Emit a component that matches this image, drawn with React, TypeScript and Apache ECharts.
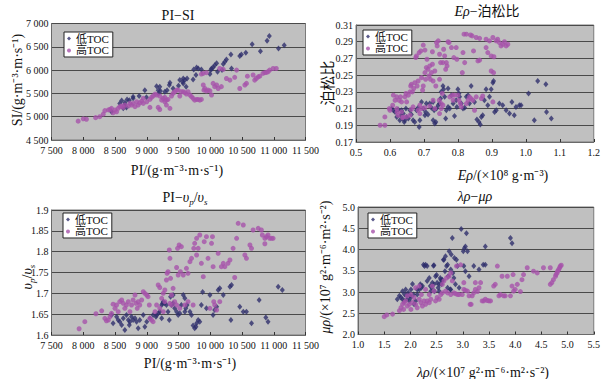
import React, { useEffect, useRef } from "react";
import * as echarts from "echarts";

// ---------- Data ----------
// Panel 1: PI vs SI
const piSiLow: number[][] = [
  [10930,6730],[10895,6630],[10660,6555],[10790,6405],[11075,6465],[11165,6535],[10560,6370],[10490,6335],[10465,6300],[10325,6335],[10255,6230],[10230,6180],[10205,6130],[10335,6035],[10100,6145],[10070,6105],[10045,6055],[10010,6000],[9995,5915],[10020,6035],[10185,6000],[10115,5965],[9785,6055],[9740,6015],[9810,6035],[9860,6015],[9775,5895],[9730,5800],[9635,5820],[9600,5785],[9565,5750],[9520,5785],[9575,5715],[9500,5665],[9365,5730],[9355,5680],[9320,5570],[9285,5535],[9205,5645],[9180,5570],[9155,5655],[9215,5550],[9185,5500],[8970,5570],[8995,5415],[8880,5445],[8785,5395],[8725,5355],[8690,5370],[8655,5300],[8605,5345],[8575,5285],[8655,5250],[8680,5200],[8630,5180],[8445,5105],[8785,5430],[9415,5605],[9575,5820],[9620,5645]
];
const piSiHigh: number[][] = [
  [7920,4905],[8000,4955],[8050,4945],[8195,4980],[8260,5000],[8315,5055],[8340,5130],[8395,5145],[8420,5155],[8445,5180],[8470,5085],[8500,5145],[8525,5105],[8550,5180],[8575,5215],[8605,5230],[8630,5200],[8655,5250],[8710,5230],[8735,5285],[8760,5250],[8785,5285],[8815,5215],[8840,5320],[8865,5250],[8890,5300],[8920,5335],[8945,5285],[9000,5320],[9050,5370],[9075,5415],[9100,5445],[9130,5485],[9155,5465],[9180,5200],[9205,5155],[9235,5355],[9260,5395],[9285,5415],[9310,5355],[9335,5370],[9365,5180],[9390,5445],[9415,5500],[9440,5535],[9470,5570],[9495,5570],[9520,5445],[9545,5535],[9575,5535],[9600,5515],[9625,5485],[9650,5535],[9680,5465],[9705,5430],[9730,5395],[9755,5355],[9785,5370],[9810,5370],[9835,5355],[9860,5370],[9890,5680],[9900,5570],[9915,5605],[9940,5550],[9965,5570],[9995,5555],[10020,5465],[10045,5715],[10070,5645],[10100,5680],[10125,5605],[10150,6035],[10175,5645],[10205,6015],[10255,5820],[10310,5785],[10385,5845],[10415,6000],[10465,5605],[10545,5680],[10570,5715],[10585,5870],[10675,5895],[10700,5785],[10725,5820],[10755,5855],[10780,5870],[10830,5930],[10860,5945],[10885,5950],[10910,5965],[10935,6000],[10990,6035],[11040,6035],[9890,5930],[9940,5945],[9860,5915],[9050,5200],[8945,5395],[9285,5320],[9310,5250],[9205,5445]
];

// Panel 2: E·rho vs Poisson's ratio
const eRhoLow: number[][] = [
  [0.605,0.210],[0.610,0.208],[0.615,0.206],[0.620,0.200],[0.624,0.209],[0.629,0.196],[0.632,0.202],[0.634,0.208],[0.637,0.198],[0.639,0.204],[0.642,0.194],[0.644,0.196],[0.647,0.210],[0.649,0.200],[0.654,0.198],[0.659,0.208],[0.663,0.203],[0.668,0.196],[0.673,0.194],[0.678,0.208],[0.683,0.211],[0.686,0.188],[0.688,0.196],[0.693,0.218],[0.698,0.210],[0.703,0.202],[0.705,0.206],[0.712,0.203],[0.717,0.216],[0.722,0.211],[0.727,0.218],[0.730,0.208],[0.732,0.192],[0.735,0.194],[0.737,0.210],[0.742,0.214],[0.746,0.216],[0.749,0.222],[0.751,0.230],[0.756,0.237],[0.758,0.233],[0.761,0.224],[0.764,0.198],[0.766,0.208],[0.771,0.212],[0.776,0.210],[0.781,0.226],[0.786,0.216],[0.790,0.201],[0.795,0.220],[0.797,0.212],[0.800,0.233],[0.803,0.228],[0.805,0.224],[0.810,0.216],[0.815,0.210],[0.820,0.211],[0.825,0.224],[0.830,0.226],[0.834,0.216],[0.839,0.237],[0.849,0.218],[0.856,0.197],[0.862,0.194],[0.866,0.191],[0.869,0.200],[0.873,0.202],[0.878,0.220],[0.883,0.233],[0.888,0.214],[0.893,0.224],[0.898,0.233],[0.903,0.241],[0.905,0.243],[0.908,0.206],[0.913,0.208],[0.922,0.216],[0.932,0.214],[0.942,0.208],[0.952,0.204],[0.959,0.218],[0.966,0.202],[0.971,0.212],[0.981,0.214],[0.986,0.214],[1.008,0.228],[1.025,0.196],[1.035,0.243],[1.059,0.239],[1.061,0.206],[1.075,0.198],[0.727,0.196],[0.707,0.216],[0.771,0.234]
];
const eRhoHigh: number[][] = [
  [0.571,0.190],[0.585,0.190],[0.585,0.200],[0.598,0.210],[0.608,0.214],[0.620,0.210],[0.621,0.206],[0.624,0.202],[0.627,0.220],[0.631,0.224],[0.634,0.206],[0.637,0.199],[0.639,0.200],[0.644,0.224],[0.647,0.228],[0.649,0.218],[0.654,0.226],[0.659,0.230],[0.661,0.237],[0.663,0.239],[0.666,0.230],[0.668,0.212],[0.670,0.234],[0.673,0.241],[0.676,0.271],[0.678,0.273],[0.680,0.237],[0.683,0.243],[0.686,0.277],[0.688,0.214],[0.691,0.279],[0.693,0.247],[0.696,0.232],[0.698,0.237],[0.703,0.253],[0.705,0.245],[0.707,0.259],[0.709,0.269],[0.712,0.257],[0.715,0.249],[0.717,0.261],[0.719,0.245],[0.722,0.253],[0.725,0.263],[0.727,0.243],[0.732,0.255],[0.735,0.237],[0.737,0.289],[0.739,0.285],[0.742,0.291],[0.745,0.220],[0.746,0.245],[0.749,0.265],[0.751,0.216],[0.754,0.228],[0.756,0.265],[0.758,0.281],[0.761,0.273],[0.764,0.257],[0.766,0.265],[0.768,0.261],[0.771,0.290],[0.774,0.289],[0.776,0.224],[0.781,0.283],[0.784,0.226],[0.786,0.220],[0.788,0.271],[0.790,0.226],[0.795,0.283],[0.797,0.269],[0.800,0.226],[0.803,0.220],[0.807,0.216],[0.810,0.212],[0.813,0.253],[0.815,0.277],[0.820,0.265],[0.825,0.216],[0.830,0.220],[0.834,0.224],[0.839,0.222],[0.844,0.220],[0.846,0.279],[0.849,0.208],[0.854,0.224],[0.859,0.267],[0.864,0.268],[0.869,0.222],[0.873,0.225],[0.883,0.283],[0.888,0.277],[0.893,0.291],[0.898,0.255],[0.903,0.295],[0.905,0.253],[0.913,0.291],[0.917,0.293],[0.922,0.289],[0.927,0.285],[0.932,0.287],[0.937,0.290],[0.942,0.285],[0.947,0.287],[0.898,0.273],[0.903,0.218],[0.906,0.272],[0.818,0.299],[0.825,0.299],[0.837,0.298],[0.842,0.297],[0.854,0.295],[0.864,0.294],[0.883,0.293],[0.698,0.286],[0.703,0.280],[0.725,0.278],[0.746,0.275],[0.620,0.224],[0.610,0.226],[0.600,0.208],[0.615,0.220],[0.634,0.218],[0.663,0.209],[0.683,0.208],[0.688,0.204],[0.693,0.210],[0.703,0.211],[0.717,0.213],[0.727,0.220],[0.732,0.210],[0.746,0.204],[0.751,0.210],[0.756,0.214],[0.659,0.202],[0.649,0.200]
];

// Panel 3: PI vs vp/vs
const piVpLow: number[][] = [
  [8445,1.648],[8470,1.628],[8525,1.644],[8550,1.636],[8575,1.632],[8605,1.624],[8630,1.640],[8655,1.612],[8680,1.648],[8710,1.636],[8725,1.624],[8735,1.632],[8760,1.644],[8785,1.636],[8815,1.640],[8840,1.632],[8865,1.616],[8890,1.636],[8945,1.648],[8970,1.620],[9000,1.632],[9050,1.640],[9100,1.648],[9145,1.644],[9155,1.648],[9180,1.652],[9205,1.656],[9235,1.672],[9250,1.676],[9260,1.680],[9285,1.676],[9310,1.672],[9335,1.656],[9355,1.636],[9375,1.692],[9390,1.672],[9415,1.676],[9440,1.664],[9470,1.656],[9495,1.648],[9520,1.652],[9545,1.672],[9575,1.696],[9600,1.656],[9615,1.664],[9635,1.672],[9680,1.656],[9705,1.648],[9730,1.623],[9755,1.616],[9775,1.620],[9785,1.628],[9810,1.636],[9835,1.632],[9860,1.672],[9880,1.703],[9940,1.664],[9995,1.696],[10045,1.648],[10070,1.660],[10100,1.668],[10125,1.708],[10150,1.712],[10205,1.696],[10310,1.716],[10335,1.720],[10325,1.636],[10465,1.668],[10520,1.656],[10570,1.656],[10650,1.628],[10770,1.684],[10875,1.642],[10910,1.632],[11070,1.716],[11135,1.708],[9600,1.688],[9415,1.696],[9235,1.640]
];
const piVpHigh: number[][] = [
  [7935,1.615],[8025,1.632],[8200,1.651],[8290,1.658],[8340,1.640],[8365,1.634],[8395,1.636],[8420,1.644],[8445,1.652],[8470,1.674],[8500,1.664],[8525,1.672],[8550,1.656],[8575,1.680],[8605,1.684],[8630,1.676],[8655,1.664],[8680,1.672],[8710,1.680],[8735,1.656],[8760,1.672],[8785,1.684],[8815,1.696],[8830,1.676],[8850,1.664],[8865,1.680],[8890,1.672],[8920,1.684],[8945,1.704],[8970,1.700],[9000,1.696],[9020,1.692],[9040,1.672],[9050,1.640],[9075,1.636],[9100,1.632],[9130,1.656],[9155,1.672],[9180,1.720],[9205,1.714],[9235,1.688],[9260,1.700],[9285,1.708],[9310,1.732],[9320,1.748],[9335,1.752],[9355,1.804],[9365,1.784],[9375,1.736],[9390,1.696],[9415,1.712],[9440,1.680],[9470,1.762],[9485,1.808],[9495,1.744],[9510,1.816],[9530,1.752],[9545,1.812],[9575,1.744],[9600,1.672],[9625,1.760],[9650,1.748],[9680,1.776],[9705,1.784],[9730,1.672],[9740,1.808],[9755,1.820],[9785,1.832],[9810,1.808],[9835,1.840],[9860,1.772],[9890,1.740],[9905,1.824],[9940,1.836],[9965,1.784],[9995,1.664],[10020,1.820],[10035,1.836],[10045,1.764],[10055,1.680],[10070,1.672],[10100,1.660],[10125,1.796],[10150,1.680],[10175,1.764],[10205,1.772],[10230,1.764],[10280,1.772],[10310,1.780],[10360,1.808],[10385,1.738],[10415,1.832],[10440,1.868],[10520,1.864],[10545,1.792],[10570,1.784],[10625,1.816],[10650,1.808],[10675,1.852],[10755,1.856],[10805,1.852],[10820,1.840],[10860,1.832],[10885,1.836],[10910,1.840],[10935,1.832],[10965,1.832],[10990,1.832],[10860,1.819],[9785,1.792],[9650,1.680],[9260,1.656],[9205,1.664],[9285,1.680],[9365,1.676],[9390,1.672],[9520,1.664],[9470,1.672]
];

// Panel 4: lambda·rho vs mu·rho
const lmLow: number[][] = [
  [1.75,2.83],[1.79,2.91],[1.82,2.87],[1.85,3.02],[1.88,2.79],[1.89,2.94],[1.91,3.06],[1.94,2.83],[1.96,2.98],[1.98,2.79],[1.99,2.91],[2.01,2.87],[2.04,3.19],[2.06,2.94],[2.07,2.71],[2.10,2.79],[2.13,2.94],[2.17,3.06],[2.19,3.18],[2.20,3.14],[2.21,3.10],[2.23,3.14],[2.25,3.64],[2.27,3.61],[2.29,3.64],[2.32,3.61],[2.36,3.33],[2.38,3.14],[2.39,3.02],[2.41,3.10],[2.42,3.22],[2.44,3.62],[2.45,3.63],[2.46,3.02],[2.48,3.37],[2.50,3.40],[2.51,3.22],[2.53,3.10],[2.55,3.18],[2.57,3.33],[2.58,3.29],[2.59,3.18],[2.61,3.26],[2.63,3.76],[2.64,3.76],[2.66,3.49],[2.67,3.84],[2.69,3.61],[2.71,3.64],[2.72,3.37],[2.74,3.96],[2.76,3.06],[2.77,3.53],[2.78,3.88],[2.80,4.27],[2.81,3.45],[2.83,3.33],[2.84,3.80],[2.86,3.18],[2.88,3.76],[2.90,3.61],[2.93,3.10],[2.97,4.48],[3.01,3.96],[3.03,4.03],[3.05,4.07],[3.07,4.38],[3.09,3.96],[3.12,3.37],[3.05,3.49],[3.02,3.61],[3.21,3.61],[3.31,3.53],[3.39,3.64],[3.43,3.64],[3.43,4.07],[3.91,4.27],[3.94,4.15],[2.77,3.06],[2.71,3.10],[2.45,3.18],[2.32,3.26],[2.13,3.06],[2.01,3.06],[1.93,2.91],[1.85,2.83],[2.61,3.29],[2.55,3.02]
];
const lmHigh: number[][] = [
  [1.50,2.42],[1.55,2.46],[1.66,2.48],[1.79,2.56],[1.82,2.63],[1.85,2.71],[1.87,2.59],[1.88,2.75],[1.91,2.79],[1.94,2.67],[1.98,2.71],[2.01,2.59],[2.04,2.75],[2.07,2.87],[2.10,2.71],[2.13,2.63],[2.17,2.83],[2.20,2.75],[2.21,2.94],[2.23,2.67],[2.26,2.79],[2.29,2.71],[2.32,2.79],[2.36,2.75],[2.39,2.83],[2.42,3.14],[2.45,3.02],[2.48,2.79],[2.51,2.87],[2.55,2.83],[2.58,2.94],[2.61,3.18],[2.64,3.26],[2.67,3.02],[2.69,3.33],[2.71,2.98],[2.74,3.37],[2.77,3.45],[2.80,3.26],[2.83,2.98],[2.86,2.96],[2.88,3.61],[2.90,2.94],[2.93,2.94],[2.96,3.64],[2.99,2.94],[3.02,3.06],[3.05,3.04],[3.09,3.02],[3.12,2.91],[3.14,2.71],[3.16,2.71],[3.18,2.91],[3.21,2.98],[3.24,3.06],[3.28,3.01],[3.31,3.10],[3.34,3.22],[3.37,2.79],[3.40,2.79],[3.43,2.83],[3.47,2.80],[3.50,2.79],[3.53,2.79],[3.59,3.14],[3.62,3.18],[3.66,3.61],[3.69,2.91],[3.72,2.94],[3.75,3.37],[3.78,2.91],[3.81,2.91],[3.85,3.37],[3.91,2.91],[3.94,3.14],[3.96,3.41],[3.97,3.02],[4.00,3.06],[4.04,3.18],[4.10,3.01],[4.13,3.29],[4.16,3.41],[4.23,3.57],[4.35,3.49],[4.42,3.45],[4.54,3.57],[4.67,3.18],[4.70,3.22],[4.73,3.29],[4.77,3.37],[4.78,3.41],[4.80,3.45],[4.81,3.49],[4.83,3.53],[4.85,3.57],[4.86,3.61],[4.88,3.63],[4.67,3.57],[2.36,2.94],[2.29,3.06],[2.01,2.94],[1.94,2.91],[2.10,3.10],[2.17,3.14],[2.61,2.98],[2.77,2.94],[3.24,3.22],[3.02,3.22]
];

const seriesNames = ["低TOC", "高TOC"];

// ---------- Styles ----------
const FONT = "'Liberation Serif', 'Noto Sans CJK SC', serif";
const LOW = "#2e2e6c";
const HIGH = "#a653aa";
const PLOT_BG = "#c0c0c0";

const grids = [
  { left: 51.5, top: 23.5, width: 254, height: 116.5 },
  { left: 356, top: 25, width: 239, height: 117 },
  { left: 51.5, top: 210, width: 254, height: 125 },
  { left: 358, top: 207, width: 236, height: 127.5 },
];

const spaceThousands = (v: number) => {
  const s = Math.round(v).toString();
  return s.length > 3 ? s.slice(0, s.length - 3) + " " + s.slice(-3) : s;
};

const axisCommon = {
  axisLine: { show: true, lineStyle: { color: "#6a6a6a", width: 1 } },
  axisLabel: { color: "#111", fontFamily: FONT, fontSize: 10, margin: 5 },
  splitLine: { show: false },
};

function xAxis(gi: number, min: number, max: number, interval: number, fmt: (v: number) => string) {
  return {
    type: "value", gridIndex: gi, min, max, interval,
    ...axisCommon,
    axisTick: { show: true, inside: true, length: 3, lineStyle: { color: "#333" } },
    axisLabel: { ...axisCommon.axisLabel, formatter: fmt },
  };
}
function yAxis(gi: number, min: number, max: number, interval: number, fmt: (v: number) => string) {
  return {
    type: "value", gridIndex: gi, min, max, interval,
    ...axisCommon,
    axisTick: { show: false },
    axisLabel: { ...axisCommon.axisLabel, formatter: fmt, margin: 3 },
    splitLine: { show: true, lineStyle: { color: "#4a4a4a", width: 1 } },
  };
}

function lowSeries(data: number[][], gi: number) {
  return {
    name: seriesNames[0], type: "scatter", xAxisIndex: gi, yAxisIndex: gi, data,
    symbol: "diamond", symbolSize: [5, 6], itemStyle: { color: LOW }, z: 3,
  };
}
function highSeries(data: number[][], gi: number) {
  return {
    name: seriesNames[1], type: "scatter", xAxisIndex: gi, yAxisIndex: gi, data,
    symbol: "circle", symbolSize: 5, itemStyle: { color: HIGH }, z: 4,
  };
}

function legend(left: number, top: number) {
  return {
    left, top, orient: "vertical", selectedMode: false,
    data: [{ name: seriesNames[0], icon: "diamond" }, { name: seriesNames[1], icon: "circle" }],
    itemWidth: 4, itemHeight: 4, itemGap: 1,
    padding: [1, 4, 1, 3],
    backgroundColor: "#fff", borderColor: "#222", borderWidth: 1, borderRadius: 0,
    textStyle: { fontFamily: FONT, fontSize: 11, color: "#111" },
  };
}

const rich = {
  i: { fontFamily: FONT, fontStyle: "italic", fontSize: 14, fill: "#111" },
  sub: { fontFamily: FONT, fontStyle: "italic", fontSize: 9, fill: "#111", verticalAlign: "bottom", padding: [0, 0, -3, 0] },
  n: { fontFamily: FONT, fontSize: 14, fill: "#111" },
};

function label(text: string, x: number, y: number, rotate = false, size = 14) {
  return {
    type: "text", x, y, rotation: rotate ? Math.PI / 2 : 0, silent: true,
    style: {
      text, fill: "#111", fontFamily: FONT, fontSize: size,
      align: "center", verticalAlign: "middle", rich,
    },
  };
}

export default function App() {
  const ref = useRef<HTMLDivElement>(null);
  useEffect(() => {
    if (!ref.current) return;
    const chart = echarts.init(ref.current, undefined, { renderer: "svg" });
    const f2 = (v: number) => v.toFixed(2);
    const f1 = (v: number) => v.toFixed(1);
    const fd = (v: number) => String(Math.round(v * 100) / 100);
    chart.setOption({
      animation: false,
      backgroundColor: "#fff",
      grid: grids.map((g) => ({ ...g, show: true, backgroundColor: PLOT_BG, borderColor: "#7a7a7a", borderWidth: 1 })),
      xAxis: [
        xAxis(0, 7500, 11500, 500, spaceThousands),
        xAxis(1, 0.5, 1.2, 0.1, f1),
        xAxis(2, 7500, 11500, 500, spaceThousands),
        xAxis(3, 1.0, 5.5, 0.5, f1),
      ],
      yAxis: [
        yAxis(0, 4500, 7000, 500, spaceThousands),
        yAxis(1, 0.17, 0.31, 0.02, f2),
        yAxis(2, 1.6, 1.9, 0.05, fd),
        yAxis(3, 2.0, 5.0, 0.5, f1),
      ],
      legend: [legend(64, 32), legend(363, 30), legend(63, 213), legend(368, 213)],
      series: [
        lowSeries(piSiLow, 0), highSeries(piSiHigh, 0),
        lowSeries(eRhoLow, 1), highSeries(eRhoHigh, 1),
        lowSeries(piVpLow, 2), highSeries(piVpHigh, 2),
        lowSeries(lmLow, 3), highSeries(lmHigh, 3),
      ],
      graphic: [
        label("PI−SI", 178, 15),
        label("{i|Eρ}{n|−泊松比}", 487, 11),
        label("{n|PI−}{i|υ}{sub|p}{n|/}{i|υ}{sub|s}", 185, 197),
        label("{i|λρ}{n|−}{i|μρ}", 475, 196),
        label("PI/(g·m⁻³·m·s⁻¹)", 177, 170),
        label("SI/(g·m⁻³·m·s⁻¹)", 17, 80, true),
        label("{i|Eρ}{n|/(×10⁸ g·m⁻³)}", 503, 175),
        label("泊松比", 328, 83, true, 15),
        label("PI/(g·m⁻³·m·s⁻¹)", 190, 363),
        label("{i|υ}{sub|p}{n|/}{i|υ}{sub|s}", 27, 277, true),
        label("{i|λρ}{n|/(×10⁷ g²·m⁻⁶·m²·s⁻²)}", 483, 372),
        label("{i|μρ}{n|/(×10⁷ g²·m⁻⁶·m²·s⁻²)}", 325, 267, true),
      ],
    });
    return () => chart.dispose();
  }, []);
  return <div ref={ref} style={{ width: 603, height: 379, position: "absolute", left: 0, top: 0 }} />;
}
